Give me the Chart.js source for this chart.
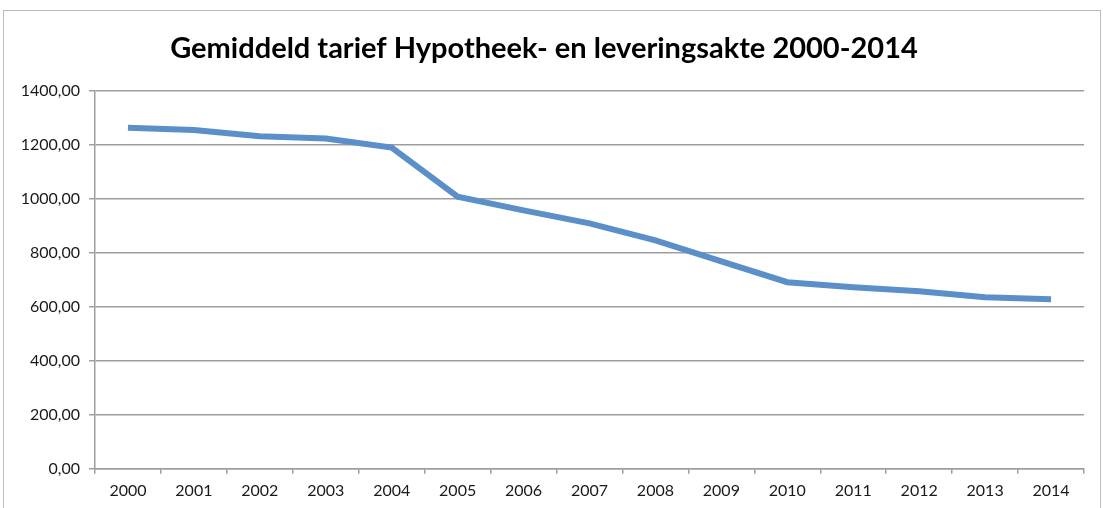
<!DOCTYPE html>
<html>
<head>
<meta charset="utf-8">
<script src="https://cdn.jsdelivr.net/npm/chart.js@4"></script>
<style>
  body { margin: 0; background: #fff; }
  #wrap { position: absolute; left: 3px; top: 10px; width: 1098px; height: 498px; border: 1px solid #bdbdbd; border-bottom: none; box-sizing: border-box; }
  #tariefChart { display: block; }
</style>
</head>
<body>
<div id="wrap"><canvas id="tariefChart" width="1097" height="498"></canvas></div>
<script>
const years = ['2000', '2001', '2002', '2003', '2004', '2005', '2006', '2007', '2008', '2009', '2010', '2011', '2012', '2013', '2014'];
const tarief = [1263, 1255, 1232, 1223, 1190, 1008, 957, 909, 846, 768, 691, 672, 658, 635, 628];
const yTicks = [0, 200, 400, 600, 800, 1000, 1200, 1400];

const ctx = document.getElementById('tariefChart').getContext('2d');
const tariefChart = new Chart(ctx, {
  type: 'line',
  data: {
    labels: years,
    datasets: [
      {
        label: 'Gemiddeld tarief',
        data: tarief,
        borderColor: '#5b8fc9',
        borderWidth: 6,
        pointRadius: 0,
        fill: false,
        tension: 0,
      },
    ],
  },
  options: {
    responsive: false,
    animation: false,
    layout: {
      padding: { left: 0, right: 17, top: 0, bottom: 2 },
    },
    scales: {
      x: {
        offset: true,
        grid: {
          offset: true,
          drawOnChartArea: false,
          tickLength: 5,
          color: '#9e9e9e',
          lineWidth: 1.5,
        },
        border: { color: '#9e9e9e', width: 1.5 },
        ticks: {
          color: '#1a1a1a',
          font: { family: 'Lato', size: 16 },
          padding: 7,
          maxRotation: 0,
        },
      },
      y: {
        min: 0,
        max: 1400,
        afterFit: (scale) => { scale.width = 91; },
        afterBuildTicks: (scale) => { scale.ticks = yTicks.map(v => ({ value: v })); },
        grid: {
          color: '#9e9e9e',
          lineWidth: 1.5,
          tickLength: 6,
        },
        border: { color: '#9e9e9e', width: 1.5 },
        ticks: {
          color: '#1a1a1a',
          font: { family: 'Lato', size: 16 },
          padding: 9,
          callback: (v) => v.toFixed(2).replace('.', ','),
        },
      },
    },
    plugins: {
      legend: { display: false },
      tooltip: { enabled: false },
      title: {
        display: true,
        text: 'Gemiddeld tarief Hypotheek- en leveringsakte 2000-2014',
        color: '#000',
        font: { family: 'Lato', size: 29, weight: 'bold' },
        padding: { top: 20, bottom: 25 },
      },
    },
  },
});
</script>
</body>
</html>
